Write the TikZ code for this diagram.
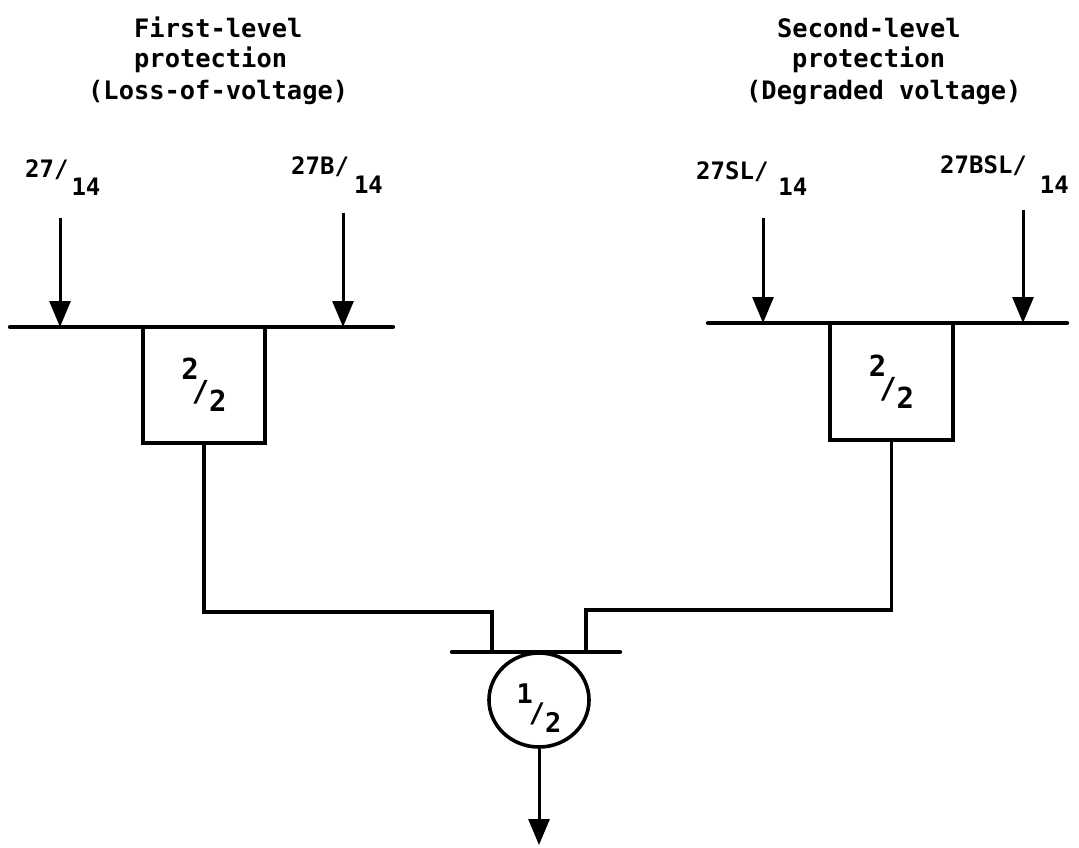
\documentclass[tikz,border=0pt]{standalone}
\usepackage{fontspec}
\newfontfamily\monofam{DejaVu Sans Mono}
\usetikzlibrary{arrows.meta,shapes.geometric}
\begin{document}
\begin{tikzpicture}[x=1pt,y=-1pt,
  title/.style={anchor=base west,inner sep=0pt,font=\monofam\bfseries\fontsize{25.4}{30}\selectfont},
  lab/.style={anchor=base west,inner sep=0pt,font=\monofam\bfseries\fontsize{24}{26}\selectfont},
  bar/.style={line width=4.2pt,line cap=round},
  wire/.style={line width=3.6pt},
  feed/.style={line width=3pt,-{Triangle[length=26pt,width=21pt]}},
  votebox/.style={draw,line width=3.6pt,rectangle,inner sep=0pt,font=\monofam\bfseries\fontsize{29}{30}\selectfont},
  voteoval/.style={draw,line width=3.6pt,ellipse,inner sep=0pt,minimum width=100pt,minimum height=94pt,font=\monofam\bfseries\fontsize{27}{30}\selectfont}
]
\useasboundingbox (0,0) rectangle (1079,847);

% titles
\node[title] (t1a) at (134,37) {First-level};
\node[title] (t1b) at (134,67) {protection};
\node[title] (t1c) at (88,99) {(Loss-of-voltage)};
\node[title] (t2a) at (777,37) {Second-level};
\node[title] (t2b) at (792,67) {protection};
\node[title] (t2c) at (746,99) {(Degraded voltage)};

% input labels
\node[lab] (l1) at (25,177) {27/\kern3pt\raisebox{-18pt}{14}};
\node[lab] (l2) at (291,174) {27B/\kern5pt\raisebox{-19pt}{14}};
\node[lab] (l3) at (696,179) {27SL/\kern10pt\raisebox{-16pt}{14}};
\node[lab] (l4) at (940,173) {27BSL/\kern13pt\raisebox{-20pt}{14}};

% bars
\coordinate (bar1w) at (10,327);
\coordinate (bar1e) at (393,327);
\coordinate (bar2w) at (708,323);
\coordinate (bar2e) at (1067,323);
\draw[bar] (bar1w) -- (bar1e);
\draw[bar] (bar2w) -- (bar2e);

% input arrows
\coordinate (in1) at (60,218);
\coordinate (in2) at (343,213);
\coordinate (in3) at (763,218);
\coordinate (in4) at (1023,210);
\draw[feed] (in1) -- (in1 |- bar1w);
\draw[feed] (in2) -- (in2 |- bar1w);
\draw[feed] (in3) -- (in3 |- bar2w);
\draw[feed] (in4) -- (in4 |- bar2w);

% 2/2 boxes
\node[votebox,minimum width=122pt,minimum height=116pt] (b1) at (204,385)
  {\rule{0pt}{43pt}\raisebox{22pt}{2}\kern-7pt/\kern0pt\raisebox{-10pt}{2}};
\node[votebox,minimum width=123pt,minimum height=117pt] (b2) at (891.5,381.5)
  {\rule{0pt}{43pt}\raisebox{22pt}{2}\kern-7pt/\kern0pt\raisebox{-10pt}{2}};

% bottom bar and 1/2 logic
\coordinate (bbarw) at (452,652);
\coordinate (bbare) at (620,652);
\coordinate (j1) at (492,612);
\coordinate (j2) at (586,610);
\draw[wire] (b1.south) |- (j1) -- (j1 |- bbarw);
\draw[wire] (b2.south) |- (j2) -- (j2 |- bbarw);
\draw[bar] (bbarw) -- (bbare);

\node[voteoval] (v) at (539,700)
  {\rule{0pt}{54pt}\raisebox{19pt}{1}\kern-4pt/\kern0pt\raisebox{-10pt}{2}};

\coordinate (out) at (539,845);
\draw[feed] (v.south) -- (out);
\end{tikzpicture}
\end{document}
